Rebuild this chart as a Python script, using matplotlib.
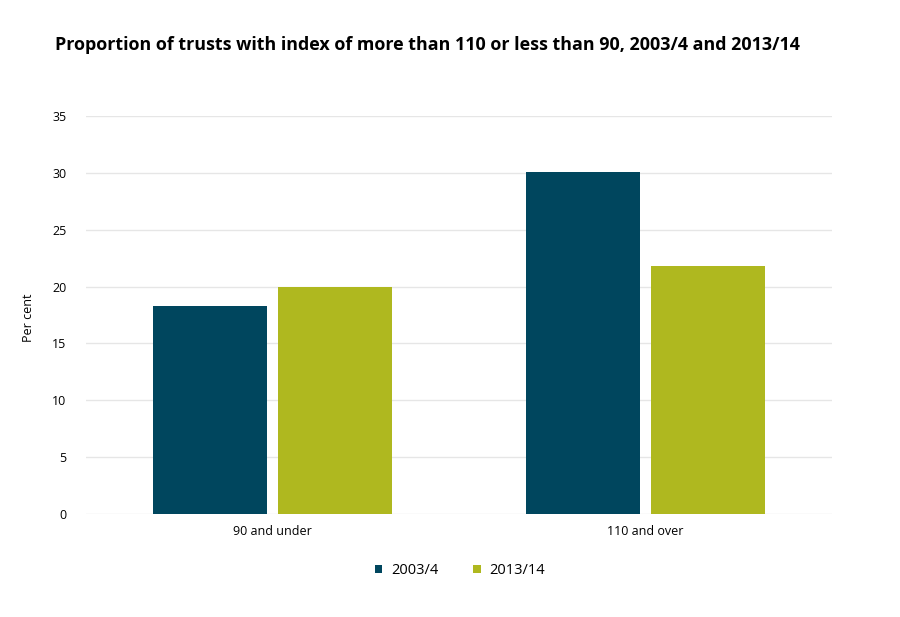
import matplotlib
matplotlib.use("Agg")
import matplotlib.pyplot as plt
import numpy as np

categories = ["90 and under", "110 and over"]
series_names = ["2003/4", "2013/14"]
values_2003 = [18.3, 30.1]
values_2013 = [20.0, 21.8]
yticks = [0, 5, 10, 15, 20, 25, 30, 35]

colors = ["#00465E", "#AFB81F"]

plt.rcParams['font.family'] = ['Open Sans', 'DejaVu Sans']

fig = plt.figure(figsize=(9, 6.17), dpi=100)
ax = fig.add_axes([0.0956, 0.167, 0.8288, 0.645])

x = np.arange(len(categories))
w = 0.306
off = 0.168
ax.bar(x - off, values_2003, width=w, color=colors[0], label=series_names[0], zorder=3)
ax.bar(x + off, values_2013, width=w, color=colors[1], label=series_names[1], zorder=3)

ax.set_xlim(-0.5, 1.5)
ax.set_ylim(0, 35)
ax.set_yticks(yticks)
ax.set_yticklabels([str(t) for t in yticks], fontsize=9)
ax.set_xticks(x)
ax.set_xticklabels(categories, fontsize=9)
ax.tick_params(axis='both', length=0)
ax.tick_params(axis='y', pad=14)
ax.tick_params(axis='x', pad=8)
ax.grid(axis='y', color='#E6E6E6', linewidth=1, zorder=0)
for s in ax.spines.values():
    s.set_visible(False)

fig.text(28/900, 1 - 318/617, "Per cent", rotation=90, fontsize=9, ha='center', va='center')
fig.text(55/900, 1 - 45/617, "Proportion of trusts with index of more than 110 or less than 90, 2003/4 and 2013/14",
         fontsize=12.9, fontweight='bold', ha='left', va='center')

leg = fig.legend(loc='center', bbox_to_anchor=(460/900, 1 - 571/617), ncol=2, frameon=False,
                 fontsize=10.5, handlelength=0.5, handleheight=0.5, handletextpad=0.6, columnspacing=2.4)

fig.savefig("out.png", dpi=100, facecolor='white')
